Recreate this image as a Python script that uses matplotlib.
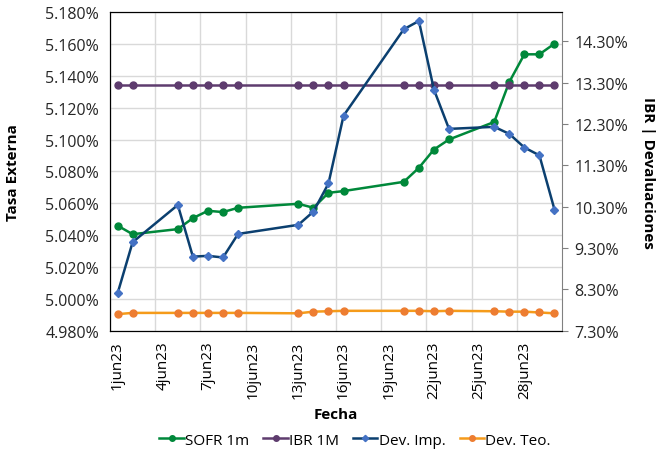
import datetime as dt
import matplotlib
matplotlib.use('Agg')
from matplotlib import pyplot as plt
import matplotlib.dates as mdates
from matplotlib.ticker import FuncFormatter, FixedLocator

plt.rcParams['font.family'] = ['Open Sans', 'DejaVu Sans']

# Data (June 2023)
days = [1, 2, 5, 6, 7, 8, 9, 13, 14, 15, 16, 20, 21, 22, 23, 26, 27, 28, 29, 30]
sofr_1m = [5.0460, 5.0406, 5.0438, 5.0507, 5.0553, 5.0545, 5.0572, 5.0597, 5.0572, 5.0666,
           5.0677, 5.0735, 5.0823, 5.0938, 5.1001, 5.1111, 5.1362, 5.1536, 5.1536, 5.1603]
ibr_1m = [13.25] * 20
dev_imp = [8.20, 9.44, 10.34, 9.09, 9.11, 9.07, 9.64, 9.86, 10.18, 10.86,
           12.50, 14.59, 14.79, 13.13, 12.18, 12.23, 12.06, 11.73, 11.54, 10.23]
dev_teo = [7.70, 7.73, 7.73, 7.73, 7.73, 7.73, 7.73, 7.72, 7.76, 7.77,
           7.78, 7.78, 7.78, 7.77, 7.78, 7.77, 7.76, 7.76, 7.74, 7.72]
label_days = [1, 4, 7, 10, 13, 16, 19, 22, 25, 28]

dates = [dt.datetime(2023, 6, d) for d in days]
half = dt.timedelta(hours=12)

fig = plt.figure(figsize=(6.64, 4.52), dpi=100)
ax = fig.add_axes([0.1657, 0.2662, 0.6807, 0.7044])
ax2 = ax.twinx()

# left axis: SOFR
l1, = ax.plot(dates, sofr_1m, color='#00883A', lw=1.8, marker='o', ms=5,
              markerfacecolor='#00883A', markeredgecolor='#00883A', label='SOFR 1m')
ax.set_ylim(4.98, 5.18)
ax.set_yticks([4.98 + 0.02 * i for i in range(11)])
ax.yaxis.set_major_formatter(FuncFormatter(lambda v, p: f'{v:.3f}%'))
ax.set_ylabel('Tasa Externa', fontweight='bold', fontsize=11)
ax.yaxis.set_label_coords(-0.199, 0.5)

# right axis: IBR and devaluations
l2, = ax2.plot(dates, ibr_1m, color='#5E3C6E', lw=1.8, marker='o', ms=5,
               markerfacecolor='#5E3C6E', markeredgecolor='#5E3C6E', label='IBR 1M')
l3, = ax2.plot(dates, dev_imp, color='#0B3F6F', lw=1.8, marker='D', ms=4,
               markerfacecolor='#4472C4', markeredgecolor='#4472C4', label='Dev. Imp.')
l4, = ax2.plot(dates, dev_teo, color='#F59B1A', lw=1.8, marker='o', ms=5,
               markerfacecolor='#ED7D31', markeredgecolor='#ED7D31', label='Dev. Teo.')
ax2.set_ylim(7.30, 15.00)
ax2.set_yticks([7.30 + i for i in range(8)])
ax2.yaxis.set_major_formatter(FuncFormatter(lambda v, p: f'{v:.2f}%'))
ax2.set_ylabel('IBR | Devaluaciones', fontweight='bold', fontsize=11, rotation=270)
ax2.yaxis.set_label_coords(1.206, 0.5)

# x axis
ax.set_xlim(dt.datetime(2023, 6, 1) - half, dt.datetime(2023, 6, 30) + half)
ax.xaxis.set_major_locator(FixedLocator([mdates.date2num(dt.datetime(2023, 6, d)) for d in label_days]))
ax.xaxis.set_major_formatter(FuncFormatter(lambda v, p: f'{mdates.num2date(v).day}jun23'))
ax.xaxis.set_minor_locator(FixedLocator([mdates.date2num(dt.datetime(2023, 6, d) - half) for d in label_days]))
ax.set_xlabel('Fecha', fontweight='bold', fontsize=11)
ax.xaxis.set_label_coords(0.5, -0.24)
for lab in ax.get_xticklabels():
    lab.set_rotation(90)

ax.tick_params(axis='x', which='both', length=0, labelsize=11, pad=7)
ax.tick_params(axis='y', length=0, labelsize=11.5, pad=8, colors='#262626')
ax2.tick_params(axis='y', length=4, color='#808080', labelsize=11.5, pad=5, labelcolor='#262626')

ax.grid(axis='y', color='#D9D9D9', lw=1)
ax.grid(axis='x', which='minor', color='#D9D9D9', lw=1)
ax.set_axisbelow(True)

for s in ['top', 'left', 'bottom']:
    ax.spines[s].set_color('black')
    ax2.spines[s].set_color('black')
ax2.spines['right'].set_color('#808080')
ax.spines['right'].set_visible(False)

fig.legend(handles=[l1, l2, l3, l4], loc='center', bbox_to_anchor=(0.535, 0.024),
           ncol=4, frameon=False, fontsize=11, handlelength=1.6, handletextpad=0.1,
           columnspacing=0.9, markerscale=0.8)

fig.savefig('out.png', dpi=100)
